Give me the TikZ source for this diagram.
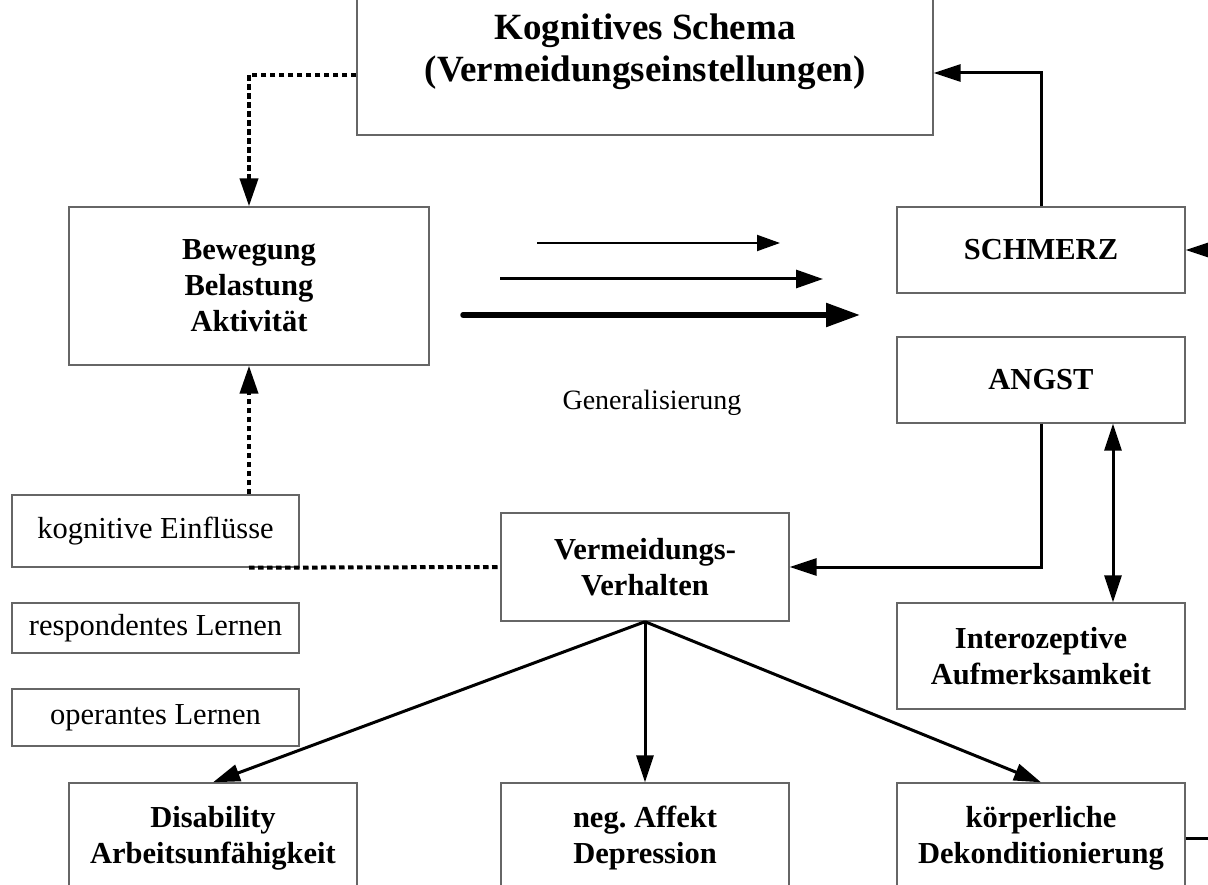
\documentclass[tikz,border=0pt]{standalone}
\usepackage{fontspec}
\setmainfont{Liberation Serif}
\usetikzlibrary{arrows.meta}
\frenchspacing
\begin{document}
\begin{tikzpicture}[x=1pt,y=-1pt,
  box/.style={draw=black!60, line width=1.4pt, align=center, inner sep=0pt},
  boldtxt/.style={font=\fontsize{30.5}{36}\selectfont\bfseries},
  normtxt/.style={font=\fontsize{30.5}{34}\selectfont},
  tip/.style={-{Triangle[length=27pt,width=17pt]}},
  arr/.style={line width=3pt, tip},
  plain/.style={line width=3pt},
  dotline/.style={line width=4pt, dash pattern=on 5.5pt off 3.5pt},
  dotarr/.style={dotline, -{Triangle[length=28pt,width=18pt]}}
]
\useasboundingbox (0,0) rectangle (1208,885);
\clip (0,0) rectangle (1208,885);

% boxes
\node[box, font=\fontsize{37}{42}\selectfont\bfseries, minimum width=576pt, minimum height=166pt]
  (schema) at (645,52) {Kognitives Schema\\(Vermeidungseinstellungen)};
\node[box, boldtxt, minimum width=360pt, minimum height=158pt]
  (bew) at (249,286) {Bewegung\\Belastung\\Aktivität};
\node[box, boldtxt, minimum width=288pt, minimum height=86pt]
  (schmerz) at (1041,250) {SCHMERZ};
\node[box, boldtxt, minimum width=288pt, minimum height=86pt]
  (angst) at (1041,380) {ANGST};
\node[box, boldtxt, minimum width=288pt, minimum height=106pt]
  (intero) at (1041,656) {Interozeptive\\Aufmerksamkeit};
\node[box, normtxt, minimum width=287pt, minimum height=72pt]
  (kog) at (155.5,531) {kognitive Einflüsse};
\node[box, normtxt, minimum width=287pt, minimum height=50pt]
  (resp) at (155.5,628) {respondentes Lernen};
\node[box, normtxt, minimum width=287pt, minimum height=57pt]
  (oper) at (155.5,717.5) {operantes Lernen};
\node[box, boldtxt, minimum width=288pt, minimum height=108pt]
  (verm) at (645,567) {Vermeidungs-\\Verhalten};
\node[box, boldtxt, minimum width=288pt, minimum height=110pt]
  (dis) at (213,838) {Disability\\Arbeitsunfähigkeit};
\node[box, boldtxt, minimum width=288pt, minimum height=110pt]
  (neg) at (645,838) {neg.\ Affekt\\Depression};
\node[box, boldtxt, minimum width=288pt, minimum height=110pt]
  (koerp) at (1041,838) {körperliche\\Dekonditionierung};

\node[font=\fontsize{28}{32}\selectfont] (gen) at (652,403) {Generalisierung};

% generalisation arrows
\coordinate (g1a) at (537,243); \coordinate (g1b) at (780,243);
\coordinate (g2a) at (500,279); \coordinate (g2b) at (823,279);
\coordinate (g3a) at (463,315); \coordinate (g3b) at (860,315);
\draw[line width=2pt, -{Triangle[length=23pt,width=16pt]}] (g1a) -- (g1b);
\draw[line width=3pt, -{Triangle[length=27pt,width=18pt]}] (g2a) -- (g2b);
\draw[line width=5.5pt, line cap=round, -{Triangle[length=34pt,width=23pt]}] (g3a) -- (g3b);

% dotted connectors
\draw[dotarr] ([yshift=61pt]schema.south west) -| (bew.north);
\draw[dotarr] (bew.south |- kog.north) -- (bew.south);
\draw[dotline] (bew.south |- kog.south) -- (verm.west);

% solid connectors
\draw[arr] (schmerz.north) |- ([yshift=-21pt]schema.east);
\coordinate (rin) at (1215,250);
\draw[arr] (rin) -- (schmerz.east);
\draw[arr] (angst.south) |- (verm.east);
\draw[line width=3pt, {Triangle[length=27pt,width=17pt]}-{Triangle[length=27pt,width=17pt]}]
  ([xshift=72pt]angst.south) -- ([xshift=72pt]intero.north);
\draw[arr] (verm.south) -- (dis.north);
\draw[arr] (verm.south) -- (neg.north);
\draw[arr] (verm.south) -- (koerp.north);
\coordinate (rout) at (1215,838);
\draw[plain] (koerp.east) -- (rout);
\end{tikzpicture}
\end{document}
